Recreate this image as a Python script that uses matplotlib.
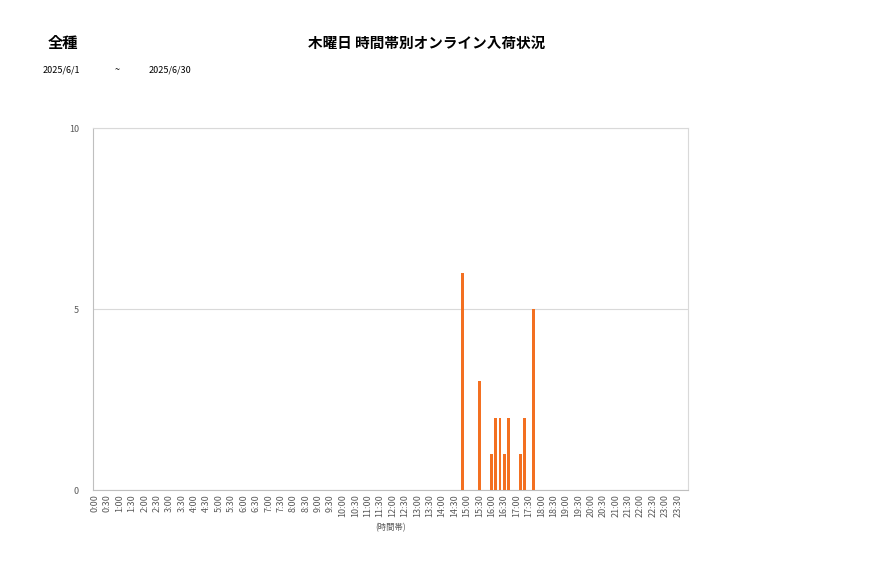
import matplotlib
matplotlib.use("Agg")
import matplotlib.pyplot as plt
import numpy as np

plt.rcParams["font.family"] = ["Noto Sans CJK JP", "DejaVu Sans"]

# 10-minute slots across the day; only non-zero slots are listed
SLOT_LABELS = [f"{h}:{m:02d}" for h in range(24) for m in range(0, 60, 10)]
ACTIVE_SLOTS = ["14:50", "15:30", "16:00", "16:10", "16:20", "16:30", "16:40", "17:10", "17:20", "17:40"]
ACTIVE_COUNTS = [6, 3, 1, 2, 2, 1, 2, 1, 2, 5]
TICK_LABELS = [f"{h}:{m:02d}" for h in range(24) for m in (0, 30)]
Y_TICKS = [0, 5, 10]

BAR_COLOR = "#F37021"
GRID_COLOR = "#D9D9D9"
TEXT_COLOR = "#595959"


def main():
    counts = np.zeros(len(SLOT_LABELS))
    for slot, value in zip(ACTIVE_SLOTS, ACTIVE_COUNTS):
        counts[SLOT_LABELS.index(slot)] = value

    fig = plt.figure(figsize=(8.77, 5.78), dpi=100, facecolor="white")
    ax = fig.add_axes((0.106, 0.1522, 0.6785, 0.6263))

    x = np.arange(len(SLOT_LABELS))
    ax.bar(x, counts, width=0.72, color=BAR_COLOR, zorder=3)

    ax.set_xlim(-0.5, len(SLOT_LABELS) - 0.5)
    ax.set_ylim(0, 10)
    tick_pos = [SLOT_LABELS.index(t) for t in TICK_LABELS]
    ax.set_xticks(tick_pos, TICK_LABELS, rotation=90)
    ax.set_yticks(Y_TICKS)
    ax.tick_params(axis="x", length=0, pad=3, labelsize=6.5, colors=TEXT_COLOR)
    ax.tick_params(axis="y", length=0, pad=10, labelsize=6.5, colors=TEXT_COLOR)
    ax.yaxis.grid(True, color=GRID_COLOR, linewidth=0.8, zorder=0)
    for spine in ax.spines.values():
        spine.set_color(GRID_COLOR)
        spine.set_linewidth(0.8)
    ax.spines["left"].set_color("#BFBFBF")
    ax.spines["bottom"].set_color("#BFBFBF")
    ax.set_xlabel("(時間帯)", fontsize=6, color=TEXT_COLOR, labelpad=4)

    fig.text(0.072, 0.925, "全種", fontsize=11, fontweight="bold", ha="center", va="center")
    fig.text(0.487, 0.925, "木曜日 時間帯別オンライン入荷状況", fontsize=10.5, fontweight="bold",
             ha="center", va="center")
    fig.text(0.048, 0.879, "2025/6/1", fontsize=6.5, va="center")
    fig.text(0.131, 0.879, "~", fontsize=6.5, va="center")
    fig.text(0.169, 0.879, "2025/6/30", fontsize=6.5, va="center")

    fig.savefig("out.png", dpi=100, facecolor="white")
    plt.close(fig)


if __name__ == "__main__":
    main()
